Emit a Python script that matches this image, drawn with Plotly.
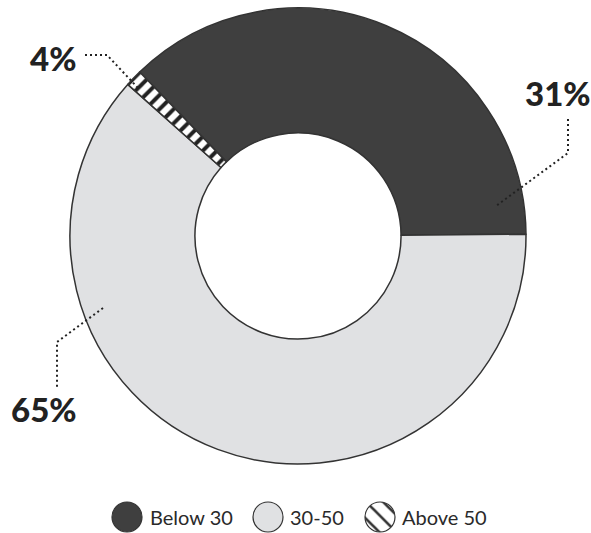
import plotly.graph_objects as go

W, H = 591, 533

# ---- data ----
categories = ["Below 30", "30-50", "Above 50"]
pct_labels = [31, 65, 4]                 # printed percentages
arc_sizes = [37.1, 61.7, 1.2]            # slice sizes as drawn in the picture
colors = ["#3f3f3f", "#e0e1e3", "#ffffff"]
patterns = ["", "", "/"]

fig = go.Figure()

def px_x(x):
    return x / W

def px_y(y):
    return 1 - y / H

# main donut
cx, cy, R = 298, 236, 228
fig.add_trace(go.Pie(
    labels=categories, values=arc_sizes, sort=False, direction="clockwise",
    rotation=-44, hole=0.452,
    marker=dict(colors=colors, line=dict(color="#333333", width=1.5),
                pattern=dict(shape=patterns, fgcolor="#222222", bgcolor="#ffffff",
                             size=10, solidity=0.4)),
    textinfo="none", hoverinfo="skip", showlegend=False,
    domain=dict(x=[px_x(cx - R), px_x(cx + R)], y=[px_y(cy + R), px_y(cy - R)]),
))

# legend icons (small one-slice pies) + labels
leg_centers = [127, 268, 380]
leg_text_x = [148, 288, 400]
leg_patterns = ["", "", "\\"]
leg_y, r = 517, 15
for i, name in enumerate(categories):
    c = leg_centers[i]
    fig.add_trace(go.Pie(
        labels=[name], values=[1], sort=False,
        marker=dict(colors=[colors[i]], line=dict(color="#333333", width=1.2),
                    pattern=dict(shape=[leg_patterns[i]], fgcolor="#333333",
                                 bgcolor="#ffffff", size=12, solidity=0.22)),
        textinfo="none", hoverinfo="skip", showlegend=False,
        domain=dict(x=[px_x(c - r), px_x(c + r)], y=[px_y(leg_y + r), px_y(leg_y - r)]),
    ))
    fig.add_annotation(x=px_x(leg_text_x[i]), y=px_y(leg_y), xref="paper", yref="paper",
                       text=name, showarrow=False, xanchor="left", yanchor="middle",
                       font=dict(family="Lato", size=20, color="#2a2a2a"))

# percentage labels
lab_pos = [(558, 93), (44, 409), (53, 58)]
for (x, y), p in zip(lab_pos, pct_labels):
    fig.add_annotation(x=px_x(x), y=px_y(y), xref="paper", yref="paper",
                       text=f"{p}%", showarrow=False, xanchor="center", yanchor="middle",
                       font=dict(family="Lato", size=33, color="#222222", weight=900))

# dotted leader lines
leaders = [
    [(568, 119), (568, 153), (496, 206)],
    [(103, 308), (57, 342), (57, 387)],
    [(85, 55), (107, 55), (138, 88)],
]
for pts in leaders:
    path = "M " + " L ".join(f"{px_x(x)},{px_y(y)}" for x, y in pts)
    fig.add_shape(type="path", path=path, xref="paper", yref="paper",
                  line=dict(color="#222222", width=2, dash="2px,3px"))

fig.update_layout(width=W, height=H, margin=dict(l=0, r=0, t=0, b=0),
                  paper_bgcolor="white", plot_bgcolor="white", showlegend=False)

fig.write_html("out.html")
